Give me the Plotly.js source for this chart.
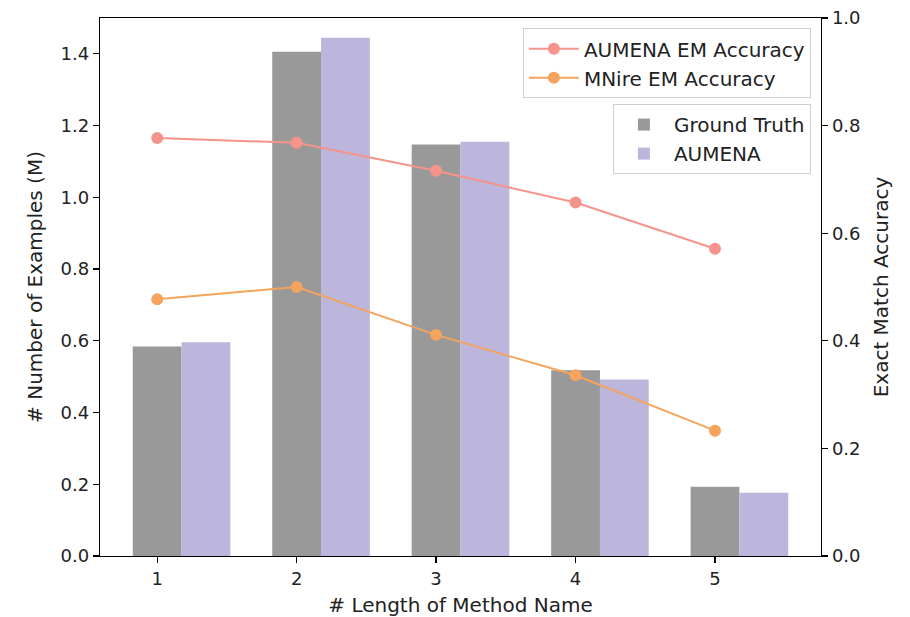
<!DOCTYPE html>
<html>
<head>
<meta charset="utf-8">
<script src="https://cdn.plot.ly/plotly-3.0.1.min.js"></script>
<style>html,body{margin:0;padding:0;background:#fff;}#chart{width:910px;height:617px;}</style>
</head>
<body>
<div id="chart"></div>
<script>
const lengths = [1, 2, 3, 4, 5];
const groundTruth = [0.584, 1.406, 1.147, 0.518, 0.193];
const aumenaCounts = [0.596, 1.445, 1.155, 0.492, 0.176];
const aumenaEM = [0.777, 0.768, 0.716, 0.657, 0.571];
const mnireEM = [0.477, 0.500, 0.411, 0.336, 0.233];
const tickLabels = ['1', '2', '3', '4', '5'];

const tickFont = {family: 'DejaVu Sans, sans-serif', size: 18, color: '#222'};
const titleFont = {family: 'DejaVu Sans, sans-serif', size: 20, color: '#222'};

const traces = [
  {type: 'bar', x: lengths, y: groundTruth, name: 'Ground Truth', width: 0.35, offset: -0.175,
   marker: {color: '#999999', line: {width: 0}}, legend: 'legend2', xaxis: 'x', yaxis: 'y'},
  {type: 'bar', x: lengths, y: aumenaCounts, name: 'AUMENA', width: 0.35, offset: 0.175,
   marker: {color: '#bcb6dd', line: {width: 0}}, legend: 'legend2', xaxis: 'x', yaxis: 'y'},
  {type: 'scatter', mode: 'lines+markers', x: lengths, y: aumenaEM, name: 'AUMENA EM Accuracy',
   line: {color: '#f4948a', width: 2}, marker: {color: '#f4948a', size: 12}, legend: 'legend', xaxis: 'x', yaxis: 'y2'},
  {type: 'scatter', mode: 'lines+markers', x: lengths, y: mnireEM, name: 'MNire EM Accuracy',
   line: {color: '#f4a45c', width: 2}, marker: {color: '#f4a45c', size: 12}, legend: 'legend', xaxis: 'x', yaxis: 'y2'}
];

const axisCommon = {showline: true, linecolor: '#000', linewidth: 1.3, ticks: 'outside', ticklen: 6,
  tickcolor: '#000', tickwidth: 1.2, showgrid: false, zeroline: false, tickfont: tickFont};

const layout = {
  width: 910, height: 617,
  margin: {l: 100, r: 89, t: 18, b: 61},
  paper_bgcolor: '#fff', plot_bgcolor: '#fff',
  font: titleFont,
  showlegend: true,
  barmode: 'overlay',
  xaxis: Object.assign({}, axisCommon, {range: [0.59, 5.76], tickvals: lengths, ticktext: tickLabels,
    mirror: true, title: {text: '# Length of Method Name', font: titleFont, standoff: 10}}),
  yaxis: Object.assign({}, axisCommon, {range: [0, 1.5], tickvals: [0, 0.2, 0.4, 0.6, 0.8, 1.0, 1.2, 1.4],
    ticktext: ['0.0', '0.2', '0.4', '0.6', '0.8', '1.0', '1.2', '1.4'],
    title: {text: '# Number of Examples (M)', font: titleFont, standoff: 12}}),
  yaxis2: Object.assign({}, axisCommon, {range: [0, 1.0], overlaying: 'y', side: 'right', anchor: 'x',
    tickvals: [0, 0.2, 0.4, 0.6, 0.8, 1.0], ticktext: ['0.0', '0.2', '0.4', '0.6', '0.8', '1.0'],
    title: {text: 'Exact Match Accuracy', font: titleFont, standoff: 14}}),
  legend: {x: 0.986, xanchor: 'right', y: 0.981, yanchor: 'top', bgcolor: 'rgba(255,255,255,0.8)',
    bordercolor: '#d0d0d0', borderwidth: 1, font: titleFont, itemwidth: 50},
  legend2: {x: 0.986, xanchor: 'right', y: 0.84, yanchor: 'top', bgcolor: 'rgba(255,255,255,0.8)',
    bordercolor: '#d0d0d0', borderwidth: 1, font: titleFont, itemwidth: 50}
};

Plotly.newPlot('chart', traces, layout, {displayModeBar: false, staticPlot: true});
</script>
</body>
</html>
